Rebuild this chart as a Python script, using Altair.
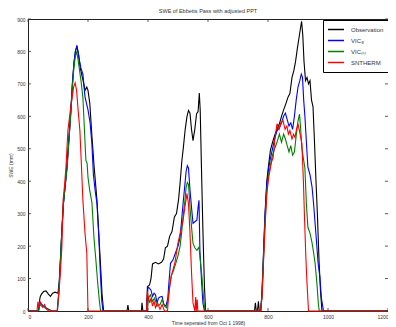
import altair as alt
import pandas as pd

# ---------------- data ----------------
series_names = ["Observation", "VIC\u2083\u2097", "VIC\u2098\u2097", "SNTHERM"]
series_colors = ["#000000", "#0000ff", "#008000", "#ff0000"]

obs_day = [0, 35, 38, 41, 45, 52, 60, 68, 75, 82, 90, 100, 104, 108, 113, 118, 124, 130, 136, 142,
           148, 153, 158, 163, 168, 174, 180, 186, 190, 196, 200, 206, 213, 220, 230, 240, 247, 252,
           330, 333, 336, 378, 380, 383, 395, 398, 405, 410, 415, 425, 435, 445, 452, 458, 465, 472,
           480, 488, 495, 502, 507, 513, 518, 524, 530, 535, 540, 545, 550, 556, 562, 567, 571, 574,
           578, 583, 588, 592,
           755, 758, 761, 765, 768, 771, 776, 780, 785, 790, 796, 802, 808, 815, 822, 830, 838, 845,
           852, 860, 867, 873, 880, 886, 892, 898, 903, 908, 912, 916, 920, 925, 930, 935, 940, 945,
           950, 955, 960, 965, 970, 975, 980, 1200]
obs_swe = [0, 0, 30, 45, 52, 60, 62, 52, 45, 55, 58, 55, 90, 160, 250, 330, 390, 450, 530, 610,
           700, 760, 800, 815, 795, 750, 725, 700, 680, 690, 680, 640, 540, 450, 340, 170, 50, 0,
           0, 18, 0, 0, 25, 0, 0, 75, 80, 100, 145, 150, 145, 150, 160, 195, 200, 230,
           245, 290, 300, 345, 395, 464, 505, 560, 600, 618, 610, 560, 525, 560, 608, 615, 672, 620,
           450, 250, 80, 0,
           0, 25, 0, 0, 30, 0, 0, 60, 180, 300, 400, 450, 495, 520, 540, 560, 577, 600,
           620, 640, 660, 670, 720, 740, 770, 810, 840, 870, 893, 850, 770, 710, 720, 700, 710, 650,
           630, 520, 400, 290, 157, 60, 0, 0]

vic3l_day = [0, 35, 40, 46, 52, 60, 70, 80, 98, 103, 108, 113, 118, 124, 130, 136, 142, 148, 153,
             158, 163, 170, 176, 183, 190, 200, 207, 213, 218, 224, 230, 236, 241, 246, 250,
             395, 400, 405, 410, 415, 420, 425, 430, 435, 440, 447, 453, 460, 466, 470, 475, 483,
             490, 500, 507, 512, 517, 523, 527, 531, 535, 540, 545, 550, 556, 563, 567, 570, 573,
             578, 583, 588,
             775, 780, 785, 790, 796, 802, 808, 815, 822, 830, 838, 845, 852, 858, 864, 870, 876,
             882, 888, 894, 900, 906, 911, 915, 919, 923, 928, 933, 940, 947, 952, 957, 962, 967,
             973, 978, 985, 1200]
vic3l_swe = [0, 0, 25, 20, 15, 10, 5, 0, 0, 60, 150, 250, 330, 385, 440, 520, 600, 700, 765,
             800, 818, 780, 750, 730, 660, 620, 580, 515, 420, 370, 330, 230, 120, 30, 0,
             0, 74, 70, 64, 45, 55, 50, 25, 40, 43, 45, 20, 15, 40, 90, 147, 157,
             175, 200, 227, 280, 332, 390, 430, 448, 440, 372, 320, 270, 275, 280, 320, 341, 187,
             100, 25, 0,
             0, 50, 170, 290, 390, 440, 470, 500, 530, 555, 565, 580, 600, 610, 590, 570, 580,
             560, 600, 650, 690, 710, 730, 720, 650, 600, 520, 443, 420, 381, 330, 270, 210, 147,
             104, 40, 0, 0]

vicml_day = [0, 35, 40, 46, 52, 60, 70, 80, 98, 103, 108, 113, 118, 124, 130, 136, 142, 148, 153,
             158, 162, 166, 172, 178, 183, 188, 193, 197, 200, 206, 213, 220, 226, 232, 238, 242,
             398, 402, 408, 415, 422, 430, 440, 447, 455, 462, 468, 473, 478, 485, 492, 500, 507,
             512, 517, 523, 527, 531, 535, 540, 545, 550, 556, 563, 570, 575, 580, 585, 590,
             775, 780, 785, 790, 796, 802, 808, 815, 822, 830, 838, 845, 852, 858, 864, 870, 876,
             882, 888, 894, 900, 905, 909, 913, 918, 923, 928, 933, 940, 947, 952, 957, 963, 968,
             971, 1200]
vicml_swe = [0, 0, 20, 15, 12, 8, 4, 0, 0, 60, 150, 250, 330, 385, 440, 520, 600, 690, 750,
             785, 800, 780, 740, 700, 657, 560, 464, 455, 412, 370, 335, 224, 160, 90, 30, 0,
             0, 40, 50, 30, 40, 15, 20, 35, 15, 10, 40, 80, 110, 125, 145, 170, 200,
             240, 290, 340, 380, 396, 390, 320, 260, 209, 195, 187, 197, 150, 104, 40, 0,
             0, 45, 160, 270, 370, 420, 450, 480, 500, 520, 545, 520, 545, 530, 510, 490, 510,
             480, 490, 540, 585, 607, 560, 500, 470, 440, 330, 258, 240, 209, 180, 147, 86, 20,
             0, 0]

snt_day = [0, 30, 33, 36, 40, 43, 48, 55, 62, 70, 97, 100, 105, 110, 113, 117, 122, 127, 133,
           140, 147, 152, 157, 162, 167, 173, 178, 183, 190, 196, 200,
           395, 398, 402, 406, 410, 415, 420, 425, 432, 440, 447, 455, 465, 470, 477, 484, 490,
           500, 510, 517, 523, 530, 535, 540, 545, 550, 556, 559, 561, 564, 566,
           775, 780, 785, 790, 796, 802, 808, 812, 817, 823, 830, 837, 843, 850, 857, 863, 868,
           873, 880, 885, 890, 895, 900, 905, 910, 913, 918, 922, 926, 930, 935, 1200]
snt_swe = [0, 0, 28, 10, 30, 25, 12, 20, 5, 0, 0, 30, 80, 150, 200, 341, 390, 450, 556,
           610, 657, 690, 703, 680, 620, 556, 450, 341, 240, 178, 0,
           0, 60, 40, 25, 40, 15, 30, 10, 25, 5, 20, 0, 0, 60, 105, 130, 150,
           210, 250, 280, 320, 362, 330, 240, 120, 25, 0, 43, 0, 35, 0,
           0, 40, 150, 260, 360, 410, 440, 460, 473, 530, 577, 560, 580, 587, 560, 570, 545,
           556, 530, 545, 535, 560, 577, 555, 530, 516, 400, 280, 170, 86, 0, 0]

x_ticks = [0, 200, 400, 600, 800, 1000, 1200]
y_ticks = [0, 100, 200, 300, 400, 500, 600, 700, 800, 900]

# ---------------- build table ----------------
frames = []
for name, d, v in zip(series_names,
                      [obs_day, vic3l_day, vicml_day, snt_day],
                      [obs_swe, vic3l_swe, vicml_swe, snt_swe]):
    frames.append(pd.DataFrame({"day": d, "swe": v, "series": name}))
df = pd.concat(frames, ignore_index=True)
df["idx"] = range(len(df))

W, H = 360, 292
FONT = "Liberation Sans"
INK = "#333333"

xscale = alt.Scale(domain=[0, 1200], nice=False, zero=False)
yscale = alt.Scale(domain=[0, 900], nice=False, zero=False)
xaxis = alt.Axis(values=x_ticks, format="d", title="Time seperated from Oct 1 1998)",
                 tickSize=0, labelPadding=3, titlePadding=1, domain=False, grid=False,
                 labelFontSize=5, labelFont=FONT, labelColor=INK,
                 titleFontSize=5, titleFont=FONT, titleColor=INK, titleFontWeight="normal")
yaxis = alt.Axis(values=y_ticks, format="d", title="SWE (mm)", tickSize=0, labelPadding=3,
                 titlePadding=3, domain=False, grid=False,
                 labelFontSize=5, labelFont=FONT, labelColor=INK,
                 titleFontSize=5, titleFont=FONT, titleColor=INK, titleFontWeight="normal")

lines = alt.Chart(df).mark_line(strokeWidth=1.1, interpolate="linear").encode(
    x=alt.X("day:Q", scale=xscale, axis=xaxis),
    y=alt.Y("swe:Q", scale=yscale, axis=yaxis),
    color=alt.Color("series:N",
                    scale=alt.Scale(domain=series_names, range=series_colors),
                    legend=alt.Legend(title=None, orient="none", legendX=295, legendY=1,
                                      symbolType="stroke", symbolSize=256, symbolStrokeWidth=1.3,
                                      clipHeight=11, rowPadding=0, labelOffset=6,
                                      labelFontSize=6, labelFont=FONT, labelColor=INK,
                                      strokeColor="#000000", fillColor="#ffffff", padding=4,
                                      cornerRadius=0)),
    detail="series:N",
    order=alt.Order("idx:Q"),
)

tx = pd.DataFrame({"day": x_ticks})
ty = pd.DataFrame({"swe": y_ticks})
tick_style = dict(color=INK, strokeWidth=0.8)
bottom_ticks = alt.Chart(tx).mark_rule(**tick_style).encode(
    x=alt.X("day:Q", scale=xscale, axis=xaxis), y=alt.value(H), y2=alt.value(H - 3))
top_ticks = alt.Chart(tx).mark_rule(**tick_style).encode(
    x=alt.X("day:Q", scale=xscale, axis=xaxis), y=alt.value(0), y2=alt.value(3))
left_ticks = alt.Chart(ty).mark_rule(**tick_style).encode(
    y=alt.Y("swe:Q", scale=yscale, axis=yaxis), x=alt.value(0), x2=alt.value(3))
right_ticks = alt.Chart(ty).mark_rule(**tick_style).encode(
    y=alt.Y("swe:Q", scale=yscale, axis=yaxis), x=alt.value(W), x2=alt.value(W - 3))

chart = alt.layer(lines, bottom_ticks, top_ticks, left_ticks, right_ticks).properties(
    width=W, height=H,
    background="#ffffff",
    title=alt.TitleParams("SWE of Ebbetts Pass with adjusted PPT", fontSize=5.5, font=FONT,
                          fontWeight="normal", color=INK, offset=3, anchor="middle"),
    autosize=alt.AutoSizeParams(type="none"),
    padding={"left": 20, "top": 11, "right": 0, "bottom": 16},
).configure_view(stroke="#222222", strokeWidth=1)

chart.save("out.html", embed_options={"renderer": "svg", "actions": False})
